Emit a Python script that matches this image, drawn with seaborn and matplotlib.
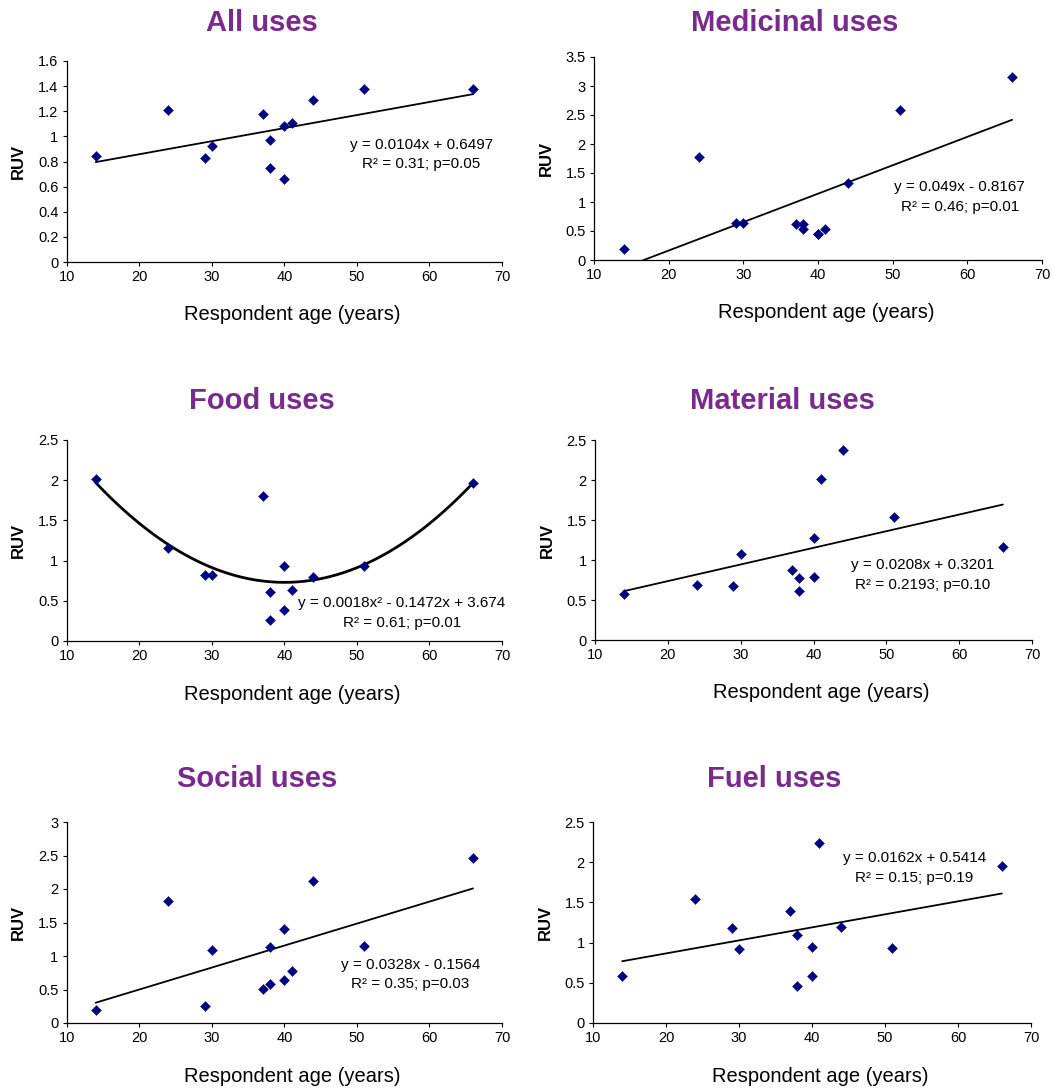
import numpy as np
import pandas as pd
import matplotlib
matplotlib.use("Agg")
import matplotlib.pyplot as plt
import seaborn as sns

# respondent ages (years), same for every panel
ages = [14, 24, 29, 30, 37, 38, 38, 40, 40, 41, 44, 51, 66]

# RUV values
all_uses = [0.84, 1.21, 0.83, 0.92, 1.18, 0.97, 0.75, 1.08, 0.66, 1.11, 1.29, 1.38, 1.38]
medicinal_uses = [0.19, 1.78, 0.64, 0.64, 0.62, 0.62, 0.53, 0.44, 0.45, 0.53, 1.32, 2.59, 3.16]
food_uses = [2.01, 1.16, 0.82, 0.82, 1.80, 0.61, 0.26, 0.93, 0.38, 0.63, 0.80, 0.93, 1.97]
material_uses = [0.58, 0.69, 0.67, 1.07, 0.88, 0.77, 0.61, 1.28, 0.79, 2.01, 2.37, 1.54, 1.16]
social_uses = [0.20, 1.82, 0.25, 1.09, 0.51, 1.14, 0.58, 1.41, 0.64, 0.77, 2.12, 1.15, 2.46]
fuel_uses = [0.58, 1.54, 1.18, 0.92, 1.39, 1.10, 0.46, 0.95, 0.58, 2.24, 1.19, 0.93, 1.95]

titles = ["All uses", "Medicinal uses", "Food uses", "Material uses", "Social uses", "Fuel uses"]
series = [all_uses, medicinal_uses, food_uses, material_uses, social_uses, fuel_uses]

# trend line coefficients as printed (None -> quadratic fit of the data)
trend_coefs = [[0.0104, 0.6497], [0.049, -0.8167], None, [0.0208, 0.3201], [0.0328, -0.1564], [0.0162, 0.5414]]
eq_lines = [
    ("y = 0.0104x + 0.6497", "R² = 0.31; p=0.05"),
    ("y = 0.049x - 0.8167", "R² = 0.46; p=0.01"),
    ("y = 0.0018x² - 0.1472x + 3.674", "R² = 0.61; p=0.01"),
    ("y = 0.0208x + 0.3201", "R² = 0.2193; p=0.10"),
    ("y = 0.0328x - 0.1564", "R² = 0.35; p=0.03"),
    ("y = 0.0162x + 0.5414", "R² = 0.15; p=0.19"),
]
eq_pos = [(58.9, 0.93, 0.78), (59.0, 1.26, 0.91), (56.2, 0.47, 0.22),
          (55.0, 0.94, 0.69), (57.4, 0.87, 0.58), (54.0, 2.05, 1.80)]
y_max = [1.6, 3.5, 2.5, 2.5, 3.0, 2.5]
y_step = [0.2, 0.5, 0.5, 0.5, 0.5, 0.5]

W, H = 1054, 1088
# axes boxes in pixels: left, top, right, bottom
boxes = [(66.7, 61, 502, 262), (594, 57, 1042, 260),
         (66.7, 440, 502, 641), (595, 440, 1032, 640),
         (66.7, 822, 502, 1023), (593, 822, 1031, 1023)]
title_xy = [(262, 23), (795, 23), (262, 401), (782, 401), (257, 779), (774, 779)]

sns.set_style("ticks")
plt.rcParams["font.family"] = ["Liberation Sans", "DejaVu Sans"]
plt.rcParams["text.color"] = "black"
plt.rcParams["axes.labelcolor"] = "black"
plt.rcParams["xtick.color"] = "black"
plt.rcParams["ytick.color"] = "black"

fig = plt.figure(figsize=(W / 100, H / 100), dpi=100)
purple = "#7A2A8C"
navy = "#000080"

for i in range(6):
    l, t, r, b = boxes[i]
    ax = fig.add_axes([l / W, 1 - b / H, (r - l) / W, (b - t) / H])
    df = pd.DataFrame({"age": ages, "ruv": series[i]})

    if trend_coefs[i] is None:
        sns.regplot(data=df, x="age", y="ruv", order=2, ci=None, scatter=False,
                    truncate=True, ax=ax, line_kws={"color": "black", "lw": 2.0})
    else:
        xs = np.linspace(min(ages), max(ages), 50)
        ax.plot(xs, np.polyval(trend_coefs[i], xs), color="black", lw=1.3)

    sns.scatterplot(data=df, x="age", y="ruv", marker="D", s=26, color=navy,
                    edgecolor=navy, linewidth=0.3, ax=ax, zorder=3)

    ax.set_xlim(10, 70)
    ax.set_ylim(0, y_max[i])
    ax.set_xticks(np.arange(10, 71, 10))
    yt = np.round(np.arange(0, y_max[i] + 1e-9, y_step[i]), 2)
    ax.set_yticks(yt)
    ax.set_yticklabels([f"{v:g}" for v in yt])
    ax.tick_params(labelsize=10.5, length=3, width=0.8, pad=3)
    for s in ["left", "bottom"]:
        ax.spines[s].set_linewidth(0.9)
        ax.spines[s].set_color("black")
    sns.despine(ax=ax)

    # x label ~53 px below the axis, y label ~48 px left of it
    ax.set_xlabel("Respondent age (years)", fontsize=14.5, va="center")
    ax.xaxis.set_label_coords(0.518, -53 / (b - t))
    ax.set_ylabel("RUV", fontsize=12, fontweight="bold", va="center")
    ax.yaxis.set_label_coords(-48 / (r - l), 0.5)

    ex, ey1, ey2 = eq_pos[i]
    ax.text(ex, ey1, eq_lines[i][0], ha="center", va="center", fontsize=11)
    ax.text(ex, ey2, eq_lines[i][1], ha="center", va="center", fontsize=11)

    tx, ty = title_xy[i]
    fig.text(tx / W, 1 - ty / H, titles[i], ha="center", va="center",
             fontsize=21, fontweight="bold", color=purple)

fig.savefig("out.png", dpi=100)
